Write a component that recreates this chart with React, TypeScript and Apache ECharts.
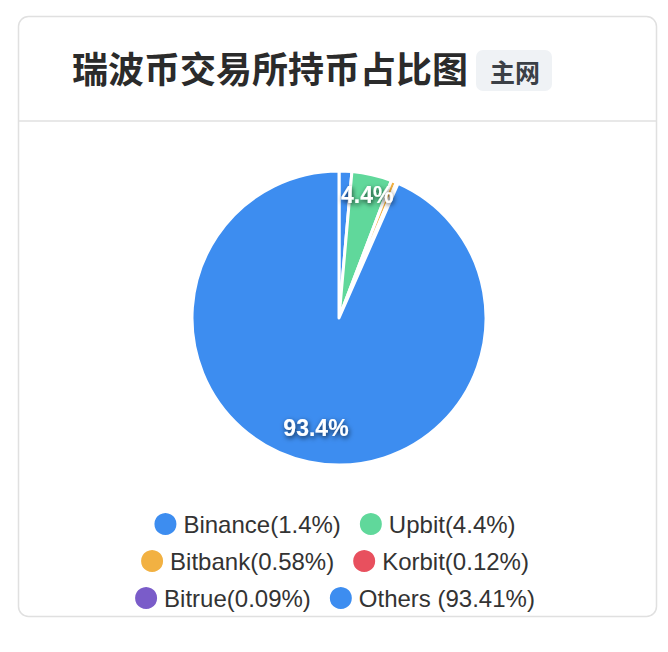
import React, { useEffect, useRef } from "react";
import * as echarts from "echarts";

const categories = ["Binance", "Upbit", "Bitbank", "Korbit", "Bitrue", "Others"];
const values = [1.4, 4.4, 0.58, 0.12, 0.09, 93.41];
const legendLabels = [
  "Binance(1.4%)",
  "Upbit(4.4%)",
  "Bitbank(0.58%)",
  "Korbit(0.12%)",
  "Bitrue(0.09%)",
  "Others (93.41%)",
];
const colors = ["#3d8df0", "#60d89b", "#f2b142", "#e8505e", "#7a5cc9", "#3d8df0"];
const titleText = "瑞波币交易所持币占比图";
const badgeText = "主网";

const PIE_CX = 339;
const PIE_CY = 318;
const PIE_R = 147;
const labelRadius: Record<number, number> = { 1: 126, 5: 112 };

export default function App() {
  const ref = useRef<HTMLDivElement>(null);
  useEffect(() => {
    document.body.style.margin = "0";
    const chart = echarts.init(ref.current!, null, { renderer: "svg" });
    const labelMap: Record<string, string> = {};
    categories.forEach((c, i) => (labelMap[c] = legendLabels[i]));
    const legendRows = [
      [categories[0], categories[1]],
      [categories[2], categories[3]],
      [categories[4], categories[5]],
    ];
    const rowTops = [506, 543, 580];
    chart.setOption({
      animation: false,
      textStyle: { fontFamily: "'Liberation Sans', 'Noto Sans CJK SC', sans-serif" },
      color: colors,
      title: {
        text: titleText,
        left: 72,
        top: 49,
        padding: 0,
        textStyle: {
          fontSize: 36,
          fontWeight: "bold",
          color: "#2b2b2b",
          fontFamily: "'Noto Sans CJK SC', sans-serif",
        },
      },
      graphic: [
        {
          type: "rect",
          z: -10,
          shape: { x: 18.5, y: 16.5, width: 638, height: 600, r: 10 },
          style: { fill: "#fff", stroke: "#e0e0e0", lineWidth: 1.5 },
        },
        {
          type: "line",
          z: -9,
          shape: { x1: 19, y1: 121, x2: 656, y2: 121 },
          style: { stroke: "#e0e0e0", lineWidth: 1.5 },
        },
        {
          type: "rect",
          z: -8,
          shape: { x: 476, y: 50, width: 76, height: 41, r: 7 },
          style: { fill: "#eff2f5" },
        },
        {
          type: "text",
          x: 515,
          y: 71,
          style: {
            text: badgeText,
            align: "center",
            verticalAlign: "middle",
            fontSize: 25,
            fontWeight: "bold",
            fill: "#3b4046",
            fontFamily: "'Noto Sans CJK SC', sans-serif",
          },
        },
      ],
      legend: legendRows.map((row, i) => ({
        data: row,
        top: rowTops[i],
        left: "center",
        icon: "circle",
        itemWidth: 24,
        itemHeight: 24,
        itemGap: 17,
        selectedMode: false,
        formatter: (name: string) => labelMap[name],
        textStyle: { fontSize: 24, color: "#333", padding: [0, 0, 0, 1] },
      })),
      series: [
        {
          type: "pie",
          center: [PIE_CX, PIE_CY],
          radius: [0, PIE_R],
          startAngle: 90,
          clockwise: true,
          itemStyle: { borderColor: "#fff", borderWidth: 3 },
          emphasis: { disabled: true },
          label: {
            show: true,
            position: "inside",
            formatter: (p: any) => (p.value >= 2 ? p.value.toFixed(1) + "%" : ""),
            color: "#fff",
            fontSize: 23,
            fontWeight: "bold",
            textShadowColor: "rgba(0,0,0,0.7)",
            textShadowBlur: 5,
            textShadowOffsetX: 1,
            textShadowOffsetY: 2,
          },
          labelLine: { show: false },
          labelLayout: (params: any) => {
            const target = labelRadius[params.dataIndex];
            if (!target || !params.labelRect) return {};
            const lx = params.labelRect.x + params.labelRect.width / 2;
            const ly = params.labelRect.y + params.labelRect.height / 2;
            const dx = lx - PIE_CX;
            const dy = ly - PIE_CY;
            const d = Math.sqrt(dx * dx + dy * dy) || 1;
            return {
              x: PIE_CX + (dx / d) * target,
              y: PIE_CY + (dy / d) * target,
              align: "center",
              verticalAlign: "middle",
            };
          },
          data: categories.map((c, i) => ({ name: c, value: values[i] })),
        },
      ],
    });
    return () => chart.dispose();
  }, []);
  return <div ref={ref} style={{ width: 668, height: 652 }} />;
}
